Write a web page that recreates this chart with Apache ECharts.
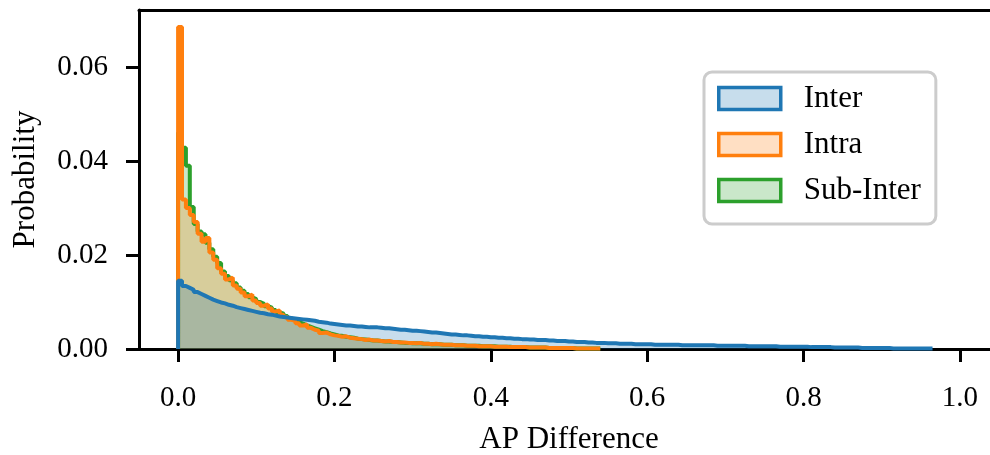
<!DOCTYPE html>
<html>
<head>
<meta charset="utf-8">
<script src="https://cdn.jsdelivr.net/npm/echarts@6/dist/echarts.min.js"></script>
<style>
  html, body { margin: 0; padding: 0; background: #fff; }
  #chart { width: 990px; height: 455px; }
</style>
</head>
<body>
<div id="chart"></div>
<script>
// histogram bins start at 0, width 0.005; bins past the end of an array are empty
const binWidth = 0.005;

const interProb = [
  0.0145, 0.0134, 0.0130, 0.0126, 0.0121, 0.0117, 0.0113, 0.0109, 0.0105, 0.0102,
  0.0099, 0.0097, 0.0094, 0.0092, 0.0089, 0.0087, 0.0085, 0.0083, 0.0081, 0.0079,
  0.0077, 0.0076, 0.0074, 0.0073, 0.0071, 0.0069, 0.0068, 0.0067, 0.0066, 0.0065,
  0.0064, 0.0063, 0.0062, 0.0061, 0.0060, 0.0058, 0.0057, 0.0056, 0.0054, 0.0053,
  0.0052, 0.0051, 0.0050, 0.0050, 0.0049, 0.0048, 0.0048, 0.0047, 0.0046, 0.0046,
  0.0046, 0.0045, 0.0044, 0.0044, 0.0043, 0.0042, 0.0041, 0.0041, 0.0040, 0.0039,
  0.0039, 0.0038, 0.0037, 0.0036, 0.0035, 0.0035, 0.0034, 0.0033, 0.0032, 0.0031,
  0.0031, 0.0030, 0.0029, 0.0029, 0.0028, 0.0027, 0.0027, 0.0026, 0.0026, 0.0025,
  0.0025, 0.0024, 0.0024, 0.0023, 0.0023, 0.0022, 0.0022, 0.0021, 0.0021, 0.0020,
  0.0020, 0.0019, 0.0019, 0.0019, 0.0018, 0.0018, 0.0017, 0.0017, 0.0017, 0.0016,
  0.0016, 0.0015, 0.0015, 0.0015, 0.0014, 0.0014, 0.0013, 0.0013, 0.0013, 0.0012,
  0.0012, 0.0012, 0.0011, 0.0011, 0.0011, 0.0011, 0.0010, 0.0010, 0.0010, 0.0010,
  0.0010, 0.0009, 0.0009, 0.0009, 0.0009, 0.0009, 0.0009, 0.0009, 0.0008, 0.0008,
  0.0008, 0.0008, 0.0008, 0.0008, 0.0008, 0.0008, 0.0008, 0.0007, 0.0007, 0.0007,
  0.0007, 0.0007, 0.0007, 0.0007, 0.0007, 0.0006, 0.0006, 0.0006, 0.0006, 0.0006,
  0.0006, 0.0006, 0.0006, 0.0005, 0.0005, 0.0005, 0.0005, 0.0005, 0.0005, 0.0005,
  0.0005, 0.0004, 0.0004, 0.0004, 0.0004, 0.0004, 0.0004, 0.0003, 0.0003, 0.0003,
  0.0003, 0.0003, 0.0003, 0.0003, 0.0002, 0.0002, 0.0002, 0.0002, 0.0002, 0.0002,
  0.0002, 0.0002, 0.0001, 0.0001, 0.0001, 0.0001, 0.0001, 0.0001, 0.0001, 0.0001,
  0.0001, 0.0001, 0.0001
];

const intraProb = [
  0.0685, 0.0318, 0.0300, 0.0285, 0.0270, 0.0245, 0.0228, 0.0236, 0.0205, 0.0190,
  0.0172, 0.0160, 0.0148, 0.0152, 0.0135, 0.0128, 0.0120, 0.0112, 0.0116, 0.0103,
  0.0098, 0.0092, 0.0095, 0.0086, 0.0080, 0.0082, 0.0073, 0.0068, 0.0062, 0.0060,
  0.0055, 0.0050, 0.0052, 0.0045, 0.0041, 0.0039, 0.0034, 0.0035, 0.0031, 0.0029,
  0.0028, 0.0026, 0.0027, 0.0024, 0.0023, 0.0022, 0.0021, 0.0019, 0.0020, 0.0018,
  0.0018, 0.0017, 0.0016, 0.0017, 0.0015, 0.0015, 0.0014, 0.0014, 0.0013, 0.0013,
  0.0012, 0.0013, 0.0011, 0.0011, 0.0010, 0.0011, 0.0010, 0.0009, 0.0009, 0.0009,
  0.0008, 0.0008, 0.0008, 0.0007, 0.0007, 0.0007, 0.0006, 0.0006, 0.0006, 0.0006,
  0.0005, 0.0005, 0.0005, 0.0005, 0.0004, 0.0004, 0.0004, 0.0004, 0.0004, 0.0003,
  0.0003, 0.0003, 0.0003, 0.0003, 0.0002, 0.0002, 0.0002, 0.0002, 0.0002, 0.0002,
  0.0002, 0.0001, 0.0001, 0.0001, 0.0001, 0.0001, 0.0001, 0.0001
];

const subInterProb = [
  0.0460, 0.0428, 0.0390, 0.0302, 0.0266, 0.0250, 0.0244, 0.0226, 0.0212, 0.0196,
  0.0183, 0.0165, 0.0155, 0.0146, 0.0140, 0.0131, 0.0124, 0.0117, 0.0110, 0.0106,
  0.0100, 0.0096, 0.0091, 0.0088, 0.0083, 0.0078, 0.0075, 0.0070, 0.0065, 0.0061,
  0.0057, 0.0054, 0.0050, 0.0047, 0.0044, 0.0041, 0.0038, 0.0036, 0.0033, 0.0031,
  0.0029, 0.0028, 0.0026, 0.0025, 0.0024, 0.0022, 0.0021, 0.0020, 0.0019, 0.0018,
  0.0018, 0.0017, 0.0016, 0.0016, 0.0015, 0.0015, 0.0014, 0.0013, 0.0013, 0.0012,
  0.0012, 0.0012, 0.0011, 0.0011, 0.0010, 0.0010, 0.0010, 0.0009, 0.0009, 0.0009,
  0.0008, 0.0008, 0.0008, 0.0007, 0.0007, 0.0007, 0.0007, 0.0006, 0.0006, 0.0006,
  0.0006, 0.0005, 0.0005, 0.0005, 0.0005, 0.0004, 0.0004, 0.0004, 0.0004, 0.0003,
  0.0003, 0.0003, 0.0003, 0.0003, 0.0002, 0.0002, 0.0002, 0.0002, 0.0002, 0.0002,
  0.0002, 0.0001, 0.0001, 0.0001, 0.0001, 0.0001, 0.0001, 0.0001
];

const xTicks = [0, 0.2, 0.4, 0.6, 0.8, 1.0];
const yTicks = [0, 0.02, 0.04, 0.06];

const font = "'Liberation Serif', 'DejaVu Serif', serif";

// turn bin probabilities into points for a step line
function toSteps(probs) {
  const pts = [[0, 0]];
  probs.forEach((p, i) => pts.push([+(i * binWidth).toFixed(3), p]));
  pts.push([+(probs.length * binWidth).toFixed(3), 0]);
  return pts;
}

function histSeries(name, probs, color, fill) {
  return {
    name: name,
    type: "line",
    step: "end",
    data: toSteps(probs),
    showSymbol: false,
    symbol: "none",
    silent: true,
    lineStyle: { color: color, width: 4 },
    itemStyle: { color: color },
    areaStyle: { color: fill, opacity: 1 },
  };
}

let myChart = echarts.init(document.getElementById("chart"));
myChart.setOption({
  animation: false,
  grid: {
    left: 139,
    top: 10,
    width: 860,
    height: 339,
    outerBoundsMode: "none",
    containLabel: false,
  },
  xAxis: [
    {
      type: "value",
      min: -0.05,
      max: 1.05,
      name: "AP Difference",
      nameLocation: "middle",
      nameGap: 75,
      nameTextStyle: { fontFamily: font, fontSize: 31, color: "#000" },
      axisLine: { onZero: false, lineStyle: { color: "#000", width: 3 } },
      axisTick: { show: true, length: 13, customValues: xTicks, lineStyle: { color: "#000", width: 3 } },
      axisLabel: {
        customValues: xTicks,
        formatter: (v) => v.toFixed(1),
        margin: 35,
        fontFamily: font,
        fontSize: 29,
        color: "#000",
      },
      splitLine: { show: false },
    },
    {
      // top spine only
      type: "value",
      position: "top",
      min: -0.05,
      max: 1.05,
      axisLine: { show: true, onZero: false, lineStyle: { color: "#000", width: 3 } },
      axisTick: { show: false },
      axisLabel: { show: false },
      splitLine: { show: false },
    },
  ],
  yAxis: {
    type: "value",
    min: 0,
    max: 0.0721,
    name: "Probability",
    nameLocation: "middle",
    nameGap: 98,
    nameTextStyle: { fontFamily: font, fontSize: 31, color: "#000" },
    axisLine: { show: true, onZero: false, lineStyle: { color: "#000", width: 3 } },
    axisTick: { show: true, length: 13, customValues: yTicks, lineStyle: { color: "#000", width: 3 } },
    axisLabel: {
      customValues: yTicks,
      formatter: (v) => v.toFixed(2),
      margin: 31,
      fontFamily: font,
      fontSize: 29,
      color: "#000",
    },
    splitLine: { show: false },
  },
  legend: {
    orient: "vertical",
    left: 704,
    top: 72,
    padding: [11, 15, 18, 13],
    itemWidth: 62,
    itemHeight: 22,
    itemGap: 15,
    backgroundColor: "#fff",
    borderColor: "#cccccc",
    borderWidth: 3,
    borderRadius: 8,
    selectedMode: false,
    textStyle: { fontFamily: font, fontSize: 31, lineHeight: 31, color: "#000", padding: [0, 0, 0, 18] },
    data: [
      { name: "Inter", icon: "rect", itemStyle: { color: "rgba(31,119,180,0.25)", borderColor: "#1f77b4", borderWidth: 3.5 } },
      { name: "Intra", icon: "rect", itemStyle: { color: "rgba(255,127,14,0.25)", borderColor: "#ff7f0e", borderWidth: 3.5 } },
      { name: "Sub-Inter", icon: "rect", itemStyle: { color: "rgba(44,160,44,0.25)", borderColor: "#2ca02c", borderWidth: 3.5 } },
    ],
  },
  // drawn bottom to top: Sub-Inter, Intra, Inter
  series: [
    histSeries("Sub-Inter", subInterProb, "#2ca02c", "rgba(44,160,44,0.25)"),
    histSeries("Intra", intraProb, "#ff7f0e", "rgba(255,127,14,0.25)"),
    histSeries("Inter", interProb, "#1f77b4", "rgba(31,119,180,0.25)"),
  ],
});
</script>
</body>
</html>
